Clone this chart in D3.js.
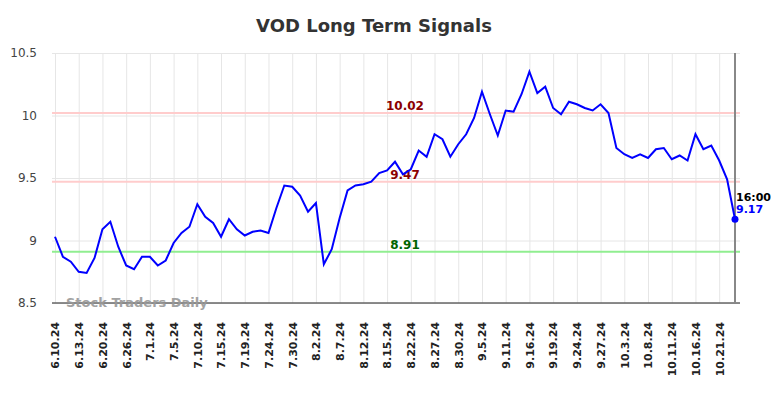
<!DOCTYPE html>
<html>
<head>
<meta charset="utf-8">
<script src="https://cdn.jsdelivr.net/npm/d3@7"></script>
<style>
  body { margin: 0; background: #fff; }
  svg { font-family: "DejaVu Sans", sans-serif; display: block; }
</style>
</head>
<body>
<div id="chart"></div>
<script>
// tick labels, one every 3 points
const tickLabels = ["6.10.24", "6.13.24", "6.20.24", "6.26.24", "7.1.24", "7.5.24", "7.10.24",
	"7.15.24", "7.19.24", "7.24.24", "7.30.24", "8.2.24", "8.7.24", "8.12.24", "8.15.24",
	"8.22.24", "8.27.24", "8.30.24", "9.5.24", "9.11.24", "9.16.24", "9.19.24", "9.24.24",
	"9.27.24", "10.3.24", "10.8.24", "10.11.24", "10.16.24", "10.21.24"];

const prices = [9.03, 8.87, 8.83, 8.75, 8.74, 8.86, 9.09, 9.15, 8.95, 8.80,
	8.77, 8.87, 8.87, 8.80, 8.84, 8.98, 9.06, 9.11, 9.29, 9.19,
	9.14, 9.03, 9.17, 9.09, 9.04, 9.07, 9.08, 9.06, 9.26, 9.44,
	9.43, 9.36, 9.23, 9.30, 8.81, 8.93, 9.18, 9.40, 9.44, 9.45,
	9.47, 9.54, 9.56, 9.63, 9.53, 9.57, 9.72, 9.67, 9.85, 9.81,
	9.67, 9.77, 9.85, 9.98, 10.19, 10.01, 9.84, 10.04, 10.03, 10.17,
	10.35, 10.18, 10.23, 10.06, 10.01, 10.11, 10.09, 10.06, 10.04, 10.09,
	10.02, 9.74, 9.69, 9.66, 9.69, 9.66, 9.73, 9.74, 9.65, 9.68,
	9.64, 9.85, 9.73, 9.76, 9.64, 9.49, 9.17];

const resistance = [10.02, 9.47];
const support = [8.91];
const yTicks = [8.5, 9, 9.5, 10, 10.5];
const lastTime = "16:00";

const width = 784;
const height = 398;
const plotLeft = 52, plotRight = 740, plotTop = 53, plotBottom = 303;

var svg = d3.select("#chart")
	.append("svg")
	.attr("width", width)
	.attr("height", height);

var x = d3.scaleLinear()
	.domain([0, prices.length - 1])
	.range([55, 735]);

var y = d3.scaleLinear()
	.domain([8.5, 10.5])
	.range([plotBottom, plotTop]);

svg.append("text")
	.attr("x", 374)
	.attr("y", 32)
	.attr("text-anchor", "middle")
	.attr("font-size", 18)
	.attr("font-weight", "bold")
	.attr("fill", "#333")
	.text("VOD Long Term Signals");

// y grid + labels
var yAxis = svg.append("g")
	.attr("transform", `translate(${plotLeft},0)`)
	.call(d3.axisLeft(y).tickValues(yTicks).tickFormat(d3.format("")).tickSize(-(plotRight - plotLeft)).tickPadding(15));
yAxis.select(".domain").remove();
yAxis.selectAll("line").attr("stroke", "#e6e6e6");
yAxis.selectAll("text").attr("font-size", 12).attr("fill", "#444")
	.attr("font-family", "DejaVu Sans, sans-serif");

// x grid + rotated labels
var xAxis = svg.append("g")
	.attr("transform", `translate(0,${plotBottom})`)
	.call(d3.axisBottom(x)
		.tickValues(tickLabels.map((d, i) => i * 3))
		.tickFormat((d) => tickLabels[d / 3])
		.tickSize(-(plotBottom - plotTop)));
xAxis.select(".domain").remove();
xAxis.selectAll("line").attr("stroke", "#e6e6e6");
xAxis.selectAll("text")
	.attr("transform", "rotate(-90)")
	.attr("text-anchor", "end")
	.attr("x", -19)
	.attr("y", 0)
	.attr("dy", "0.35em")
	.attr("font-size", 11)
	.attr("font-weight", "bold")
	.attr("fill", "#222")
	.attr("font-family", "DejaVu Sans, sans-serif");

// signal lines
svg.selectAll(".res")
	.data(resistance)
	.enter()
	.append("line")
	.attr("x1", plotLeft).attr("x2", plotRight)
	.attr("y1", (d) => y(d)).attr("y2", (d) => y(d))
	.attr("stroke", "#ffcccc")
	.attr("stroke-width", 2);

svg.selectAll(".sup")
	.data(support)
	.enter()
	.append("line")
	.attr("x1", plotLeft).attr("x2", plotRight)
	.attr("y1", (d) => y(d)).attr("y2", (d) => y(d))
	.attr("stroke", "#90ee90")
	.attr("stroke-width", 2);

// bottom axis line and right marker line
svg.append("line")
	.attr("x1", plotLeft).attr("x2", plotRight)
	.attr("y1", plotBottom).attr("y2", plotBottom)
	.attr("stroke", "#666")
	.attr("stroke-width", 1.5);

svg.append("line")
	.attr("x1", x(prices.length - 1)).attr("x2", x(prices.length - 1))
	.attr("y1", plotTop).attr("y2", plotBottom)
	.attr("stroke", "#888")
	.attr("stroke-width", 2);

svg.append("text")
	.attr("x", 66)
	.attr("y", 307)
	.attr("font-size", 13)
	.attr("font-weight", "bold")
	.attr("fill", "#999")
	.attr("opacity", 0.9)
	.text("Stock Traders Daily");

svg.selectAll(".reslabel")
	.data(resistance)
	.enter()
	.append("text")
	.attr("x", 405)
	.attr("y", (d) => y(d) - 3)
	.attr("text-anchor", "middle")
	.attr("font-size", 12)
	.attr("font-weight", "bold")
	.attr("fill", "#8b0000")
	.text((d) => d.toFixed(2));

svg.selectAll(".suplabel")
	.data(support)
	.enter()
	.append("text")
	.attr("x", 405)
	.attr("y", (d) => y(d) - 3)
	.attr("text-anchor", "middle")
	.attr("font-size", 12)
	.attr("font-weight", "bold")
	.attr("fill", "#006400")
	.text((d) => d.toFixed(2));

// price line
var line = d3.line()
	.x((d, i) => x(i))
	.y((d) => y(d));

svg.append("path")
	.datum(prices)
	.attr("d", line)
	.attr("fill", "none")
	.attr("stroke", "#0000ff")
	.attr("stroke-width", 2);

var last = prices[prices.length - 1];
svg.append("circle")
	.attr("cx", x(prices.length - 1))
	.attr("cy", y(last))
	.attr("r", 3.5)
	.attr("fill", "#0000ff");

svg.append("text")
	.attr("x", x(prices.length - 1) + 1)
	.attr("y", y(last) - 18)
	.attr("font-size", 11)
	.attr("font-weight", "bold")
	.attr("fill", "#000")
	.text(lastTime);

svg.append("text")
	.attr("x", x(prices.length - 1) + 1)
	.attr("y", y(last) - 6)
	.attr("font-size", 11)
	.attr("font-weight", "bold")
	.attr("fill", "#0000ff")
	.text(last.toFixed(2));
</script>
</body>
</html>
